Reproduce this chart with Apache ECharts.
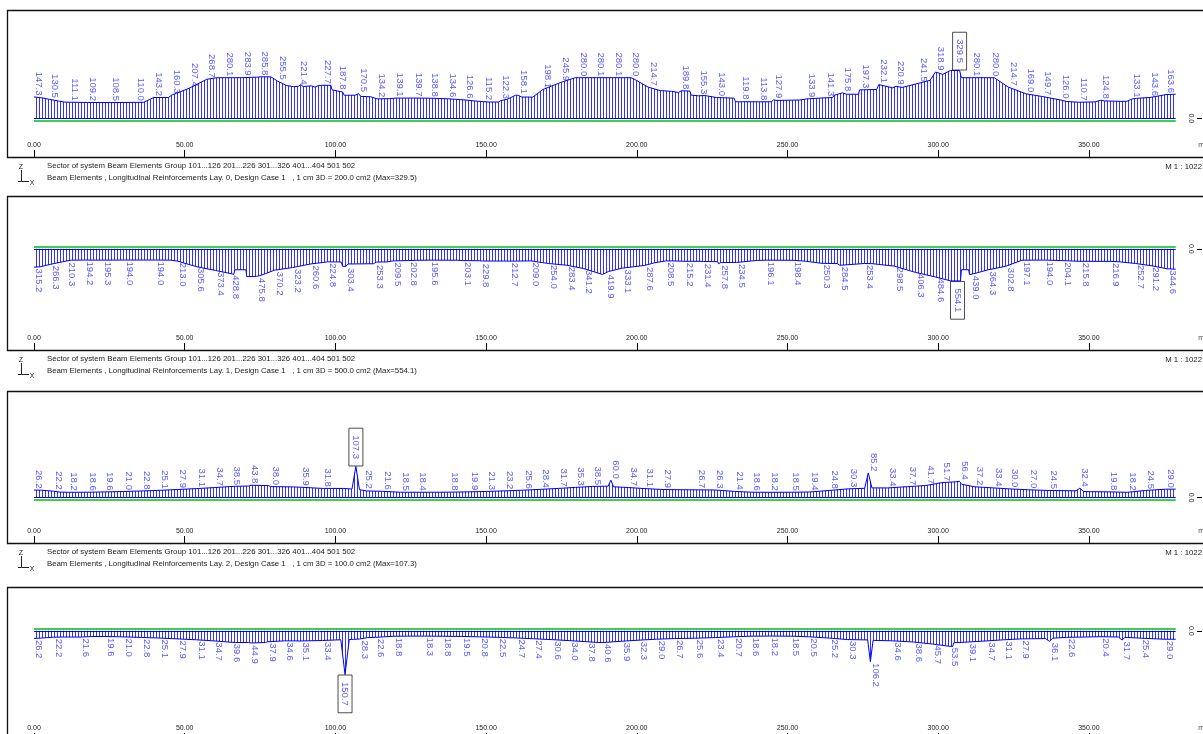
<!DOCTYPE html>
<html>
<head>
<meta charset="utf-8">
<script src="https://cdn.jsdelivr.net/npm/echarts@6/dist/echarts.min.js"></script>
<style>
  html, body { margin: 0; padding: 0; background: #fff; }
  #chart { width: 1203px; height: 734px; }
</style>
</head>
<body>
<div id="chart"></div>
<script>
// Stations along the beam axis [m] where the scale is ticked
const stationTicks = [0, 50, 100, 150, 200, 250, 300, 350];

// ---- Layer 0 : longitudinal reinforcement [cm2], labelled stations ----
const lay0At = [0, 5.1, 11.7, 17.8, 25.5, 33.8, 39.6, 45.7, 51.5, 57.3, 63.3, 69.2, 75.0, 80.9, 87.8, 95.6,
  100.8, 107.7, 113.8, 119.8, 125.8, 131.2, 137.3, 143.0, 149.1, 154.9, 160.8, 168.8, 174.6, 180.7, 186.5,
  192.2, 198.1, 203.8, 214.7, 220.4, 226.5, 234.6, 240.4, 245.4, 256.4, 262.5, 268.3, 274.4, 280.3, 286.0,
  293.5, 299.1, 307.1, 311.1, 317.5, 323.3, 329.1, 334.7, 340.7, 346.6, 354.0, 364.3, 370.3, 375.6];
const lay0Val = [147.3, 130.5, 111.1, 109.2, 108.5, 110.0, 143.2, 160.3, 207.4, 268.7, 280.1, 283.9, 285.8, 255.5, 221.4, 227.7,
  187.8, 170.5, 134.2, 139.1, 139.7, 138.8, 134.6, 126.6, 115.2, 122.3, 158.1, 198.1, 245.9, 280.0, 280.1,
  280.1, 280.0, 214.7, 189.8, 155.3, 143.0, 119.8, 113.8, 127.9, 133.9, 141.3, 175.8, 197.3, 232.1, 220.9,
  241.5, 318.9, 329.5, 280.1, 280.0, 214.7, 169.0, 149.7, 126.0, 110.7, 124.8, 133.1, 143.6, 163.6];
// unlabelled stations of the same envelope [m, cm2]
const lay0Shape = [[3, 140], [8.2, 119], [10.3, 111.5], [36.3, 110.3], [38.2, 128], [44.6, 143.5], [60.6, 280.0],
  [68.8, 280.1], [74.3, 284.0], [78.6, 285.8], [83.8, 226], [86.2, 218], [88.5, 233], [89.3, 219], [92.0, 224],
  [93.2, 215], [94.4, 226], [98.5, 227.7], [98.9, 196], [102.4, 181], [102.9, 159], [106.6, 159], [108.4, 151],
  [111.6, 149], [112.1, 136], [117.9, 135.5], [147.0, 118], [151.0, 112], [154.1, 112.5], [157.0, 131],
  [159.8, 159.5], [161.7, 147], [165.5, 146], [179.6, 280.0], [199.0, 272], [207.8, 191], [211.5, 186],
  [212.0, 178], [213.9, 178], [214.3, 190], [217.6, 188], [218.0, 160], [222.6, 157], [223.0, 144], [230.0, 141],
  [232.3, 139], [232.7, 114], [234.2, 114], [235.1, 114.5], [244.6, 114], [246.2, 123], [254.0, 126],
  [265.0, 143], [265.4, 158], [269.6, 166], [273.6, 166], [273.9, 196], [279.6, 199], [284.9, 210], [288.0, 213],
  [290.6, 226], [297.3, 262], [301.5, 303], [304.0, 329.5], [307.5, 329.5], [307.7, 280.1], [318.6, 280.0],
  [342.5, 116], [352.0, 113], [355.2, 120], [360.3, 117], [362.6, 117], [365.8, 138], [374.7, 160], [378.8, 166]];

// ---- Layer 1 ----
const lay1At = [0, 5.6, 10.8, 16.7, 22.8, 30.0, 40.2, 47.7, 53.7, 60.2, 65.4, 73.9, 79.7, 85.8, 91.9, 97.4,
  103.5, 113.1, 119.0, 124.3, 131.2, 142.2, 148.3, 157.7, 164.9, 170.8, 176.8, 182.4, 189.5, 195.2, 202.5,
  209.7, 215.8, 221.7, 227.4, 233.2, 242.9, 251.8, 261.4, 267.4, 275.5, 285.4, 292.4, 299.0, 306.4, 310.9,
  316.4, 322.3, 327.8, 335.2, 341.3, 347.4, 357.3, 365.4, 370.6, 376.0];
const lay1Val = [315.2, 266.3, 210.3, 194.2, 195.3, 194.0, 194.0, 213.0, 305.6, 373.4, 428.8, 475.8, 370.2, 323.2, 260.6, 224.8,
  303.4, 253.3, 209.5, 202.8, 195.6, 203.1, 229.8, 212.7, 209.0, 254.0, 283.4, 341.2, 419.9, 333.1, 287.6,
  208.5, 215.2, 231.4, 257.8, 234.5, 196.1, 198.4, 250.3, 284.5, 253.4, 298.5, 406.3, 484.6, 554.1, 439.0,
  364.3, 302.8, 197.1, 194.0, 204.1, 215.8, 216.9, 252.7, 291.2, 344.6];
const lay1Shape = [[1.8, 313], [12.4, 196], [45.2, 195], [66.3, 440], [66.6, 362], [70.3, 362], [70.6, 480],
  [75.6, 452], [95.6, 238], [101.9, 228], [102.4, 300], [104.1, 262], [112.6, 258], [113.6, 229], [117.2, 226],
  [117.6, 211], [127.0, 198], [140.6, 197], [147.7, 206], [147.9, 231], [148.8, 211], [156.0, 211], [188.6, 442],
  [190.6, 392], [206.0, 240], [213.0, 210], [221.3, 216], [221.5, 233], [222.1, 219], [226.9, 222], [227.1, 259],
  [227.8, 238], [233.8, 212], [240.0, 200], [256.0, 214], [266.5, 255], [266.9, 270], [268.0, 257], [278.0, 256],
  [304.2, 554.1], [307.4, 554.1], [307.7, 360], [310.1, 360], [310.4, 445], [312.5, 420], [360.0, 224], [378.8, 352]];

// ---- Layer 2 ----
const lay2At = [0, 6.4, 11.5, 17.8, 23.5, 29.6, 35.6, 41.7, 47.7, 54.0, 60.0, 65.7, 71.5, 78.5, 88.3, 95.6,
  106.8, 109.2, 115.6, 121.6, 127.4, 138.0, 144.4, 150.2, 156.2, 162.3, 168.0, 174.0, 179.7, 185.4, 191.4,
  197.2, 202.7, 208.7, 219.7, 225.8, 232.4, 238.2, 244.2, 251.2, 257.3, 264.1, 270.2, 276.8, 283.2, 289.9,
  295.9, 301.3, 307.0, 312.1, 318.4, 323.7, 329.9, 336.8, 347.0, 356.6, 362.7, 368.7, 375.3];
const lay2Val = [26.2, 22.2, 18.2, 18.6, 19.6, 21.0, 22.8, 25.1, 27.9, 31.1, 34.7, 38.5, 43.8, 38.0, 35.9, 31.8,
  107.3, 25.2, 21.6, 18.5, 18.4, 18.8, 19.9, 21.3, 23.2, 25.6, 28.4, 31.7, 35.3, 38.5, 60.0,
  34.7, 31.1, 27.9, 26.7, 26.3, 21.4, 18.6, 18.2, 18.5, 19.4, 24.8, 30.3, 85.2, 33.4, 37.7,
  41.7, 51.7, 56.4, 37.2, 33.4, 30.0, 27.0, 24.5, 32.4, 19.8, 18.2, 24.5, 29.0];
const lay2Shape = [[2.5, 25.5], [8.5, 19], [66.8, 39.0], [71.2, 39.8], [72.0, 42.5], [77.8, 41.5], [86.2, 36.8],
  [92.5, 33.5], [102.8, 31.5], [103.2, 29.5], [105.5, 29.5], [108.0, 27], [110.3, 23], [133.0, 18.4],
  [190.5, 39.5], [192.3, 37.2], [214.0, 27.2], [275.6, 32.0], [278.0, 33.5], [305.8, 54.5], [307.8, 46],
  [308.4, 39.5], [345.7, 23.5], [348.3, 21.0], [350.5, 20.5], [378.8, 29.2]];

// ---- Layer 3 ----
const lay3At = [0, 6.4, 15.6, 23.6, 29.7, 35.6, 41.7, 47.7, 54.0, 59.5, 65.5, 71.5, 77.5, 83.2, 88.6, 95.7,
  103.2, 108.0, 113.3, 119.4, 129.6, 135.6, 141.9, 147.9, 153.9, 160.0, 165.7, 172.1, 177.8, 183.5, 188.8,
  195.1, 200.7, 206.5, 212.5, 219.2, 226.1, 232.1, 237.9, 244.0, 250.9, 257.0, 263.9, 270.0, 277.5, 284.8,
  291.8, 298.1, 303.9, 309.6, 316.2, 321.6, 327.3, 336.9, 342.6, 354.0, 361.0, 367.3, 375.0];
const lay3Val = [26.2, 22.2, 21.6, 19.6, 21.0, 22.8, 25.1, 27.9, 31.1, 34.7, 39.6, 44.9, 37.9, 34.6, 35.1, 33.4,
  150.7, 28.3, 22.6, 18.8, 18.3, 18.8, 19.5, 20.8, 22.5, 24.7, 27.4, 30.6, 34.0, 37.8, 40.6,
  35.9, 32.3, 29.0, 26.7, 25.6, 23.4, 20.7, 18.6, 18.2, 18.5, 20.5, 25.2, 30.3, 106.2, 34.6,
  38.6, 45.7, 53.5, 39.1, 34.7, 31.1, 27.9, 36.1, 22.6, 20.4, 31.7, 25.4, 29.0];
const lay3Shape = [[2.5, 25], [9.5, 21.5], [19.0, 19.8], [66.8, 40.3], [71.2, 40.5], [72.0, 42], [76.8, 40.5],
  [86.0, 34.8], [101.8, 31.0], [104.6, 30.0], [106.0, 29.5], [110.6, 23.5], [124.0, 18.4], [187.0, 40.5],
  [276.6, 31.5], [278.4, 33.0], [304.8, 54.0], [305.2, 41.0], [335.6, 26.8], [338.0, 25.5], [359.8, 21.5],
  [362.0, 22.5], [378.8, 29.2]];

// ---- drawing set-up ----
const FONT = '"Liberation Sans", Arial, sans-serif';
const CHART_H = 734;
const PX_PER_M = 3.014;        // horizontal drawing scale
const PX_PER_CM = 29;          // 1 cm of the drawing, in screen pixels
const X_MAX = 380;
const GRID_LEFT = 34;
const GRID_W = X_MAX * PX_PER_M;
const AXIS_GAP = 2.4;          // beam axis drawn just outside the result baseline
const LABEL_BLUE = '#2e2eff';

const groupLine = 'Sector of system Beam Elements Group 101...126 201...226 301...326 401...404 501 502';

const panels = [
  { layer: 0, cm: 200, down: false, top: 10,  bottom: 157, base: 118.3, at: lay0At, val: lay0Val, shape: lay0Shape, caption: true },
  { layer: 1, cm: 500, down: true,  top: 196, bottom: 350, base: 248.8, at: lay1At, val: lay1Val, shape: lay1Shape, caption: true },
  { layer: 2, cm: 100, down: false, top: 391, bottom: 543, base: 497.6, at: lay2At, val: lay2Val, shape: lay2Shape, caption: true },
  { layer: 3, cm: 100, down: true,  top: 587, bottom: 740, base: 630.8, at: lay3At, val: lay3Val, shape: lay3Shape, caption: false }
];

// vertical hatching used to fill the reinforcement envelope
const hatch = document.createElement('canvas');
hatch.width = 3; hatch.height = 6;
const hctx = hatch.getContext('2d');
hctx.fillStyle = 'rgba(0,0,255,0.8)';
hctx.fillRect(0, 0, 1, 6);

function envelope(p) {
  const pts = p.at.map((x, i) => [x, p.val[i]]).concat(p.shape);
  pts.sort((a, b) => a[0] - b[0]);
  return pts;
}

const grid = [], xAxis = [], yAxis = [], series = [], graphic = [];

panels.forEach((p, i) => {
  const s = PX_PER_CM / p.cm;
  const above = (p.base - p.top) / s;
  const below = (p.bottom - p.base) / s;
  const pts = envelope(p);
  const x0 = pts[0][0], x1 = pts[pts.length - 1][0];
  const axisVal = -AXIS_GAP / s;
  const maxVal = Math.max.apply(null, p.val);

  grid.push({ left: GRID_LEFT, width: GRID_W, top: p.top, bottom: CHART_H - p.bottom,
    outerBoundsMode: 'none', containLabel: false });

  xAxis.push({
    type: 'value', gridIndex: i, min: 0, max: X_MAX, position: 'bottom',
    axisLine: { show: false, onZero: false }, splitLine: { show: false },
    axisTick: { show: true, inside: true, length: 7, customValues: stationTicks, lineStyle: { color: '#000', width: 1 } },
    axisLabel: { show: true, inside: true, margin: 8, customValues: stationTicks,
      formatter: v => v.toFixed(2), fontSize: 7, color: '#222', fontFamily: FONT },
    name: 'm', nameLocation: 'end', nameGap: 19,
    nameTextStyle: { fontSize: 7, color: '#444', fontFamily: FONT, verticalAlign: 'bottom', lineHeight: 8, padding: [0, 0, 8, 0] }
  });

  yAxis.push({
    type: 'value', gridIndex: i, inverse: p.down,
    min: p.down ? -above : -below, max: p.down ? below : above,
    position: 'right', offset: 1197 - (GRID_LEFT + GRID_W),
    axisLine: { show: false, onZero: false }, splitLine: { show: false },
    axisTick: { show: true, length: 5, customValues: [0], lineStyle: { color: '#000' } },
    axisLabel: { show: true, inside: true, margin: 3, customValues: [0], rotate: -90,
      formatter: v => Math.abs(v).toFixed(1), fontSize: 7, color: '#333', fontFamily: FONT }
  });

  series.push({
    type: 'line', xAxisIndex: i, yAxisIndex: i, data: pts, symbol: 'none', silent: true,
    lineStyle: { color: '#0000ee', width: 1 },
    areaStyle: { color: { image: hatch, repeat: 'repeat' }, opacity: 1 },
    markLine: {
      silent: true, symbol: ['none', 'none'], label: { show: false },
      data: [
        [{ coord: [x0, 0], lineStyle: { color: '#0000ff', width: 1, type: 'solid' } }, { coord: [x1, 0] }],
        [{ coord: [x0, axisVal], lineStyle: { color: '#00c000', width: 1.6, type: 'solid' } }, { coord: [x1, axisVal] }]
      ]
    }
  });

  series.push({
    type: 'scatter', xAxisIndex: i, yAxisIndex: i, symbolSize: 1, silent: true,
    itemStyle: { color: 'rgba(0,0,0,0)' },
    label: {
      show: true, formatter: q => q.value[1].toFixed(1),
      position: p.down ? 'bottom' : 'top', distance: 1, rotate: -90,
      align: p.down ? 'left' : 'right', verticalAlign: 'bottom',
      fontSize: 9.5, fontFamily: FONT, color: LABEL_BLUE
    },
    data: p.at.map((x, k) => {
      const item = { value: [x, p.val[k]] };
      if (p.val[k] === maxVal) {
        item.label = { borderColor: '#222', borderWidth: 1, padding: [2, 7, 2, 7], verticalAlign: 'middle', distance: 0 };
      }
      return item;
    })
  });

  // frame of the section view
  graphic.push({ type: 'rect', silent: true, z: 0,
    shape: { x: 7.5, y: p.top + 0.5, width: 1400, height: p.bottom - p.top },
    style: { fill: 'none', stroke: '#111', lineWidth: 1.3 } });

  if (p.caption) {
    const y1 = p.bottom + 9, y2 = p.bottom + 21;
    const capStyle = { font: '7.8px ' + FONT, fill: '#222', verticalAlign: 'middle' };
    graphic.push({ type: 'text', silent: true, style: Object.assign({ text: groupLine, x: 47, y: y1 }, capStyle) });
    graphic.push({ type: 'text', silent: true, style: Object.assign({
      text: 'Beam Elements , Longitudinal Reinforcements Lay. ' + p.layer + ', Design Case 1   , 1 cm 3D = ' +
        p.cm.toFixed(1) + ' cm2 (Max=' + maxVal.toFixed(1) + ')', x: 47, y: y2 }, capStyle) });
    graphic.push({ type: 'text', silent: true, style: Object.assign({ text: 'M 1 : 1022', x: 1202, y: y1 + 1, align: 'right' }, capStyle) });
    // little Z/X orientation glyph
    graphic.push({ type: 'text', silent: true, style: { text: 'Z', x: 21, y: y1 + 1, font: '7px ' + FONT, fill: '#222', align: 'center', verticalAlign: 'middle' } });
    graphic.push({ type: 'polyline', silent: true, shape: { points: [[21.5, p.bottom + 13], [21.5, p.bottom + 24.5], [29, p.bottom + 24.5]] },
      style: { stroke: '#222', lineWidth: 1, fill: 'none' } });
    graphic.push({ type: 'line', silent: true, shape: { x1: 18, y1: p.bottom + 24.5, x2: 21.5, y2: p.bottom + 24.5 },
      style: { stroke: '#222', lineWidth: 1 } });
    graphic.push({ type: 'text', silent: true, style: { text: 'X', x: 32, y: p.bottom + 26, font: '7px ' + FONT, fill: '#222', align: 'center', verticalAlign: 'middle' } });
  }
});

const chart = echarts.init(document.getElementById('chart'), null, { renderer: 'canvas' });
chart.setOption({
  backgroundColor: '#fff',
  animation: false,
  textStyle: { fontFamily: FONT },
  grid, xAxis, yAxis, series, graphic
});
</script>
</body>
</html>
